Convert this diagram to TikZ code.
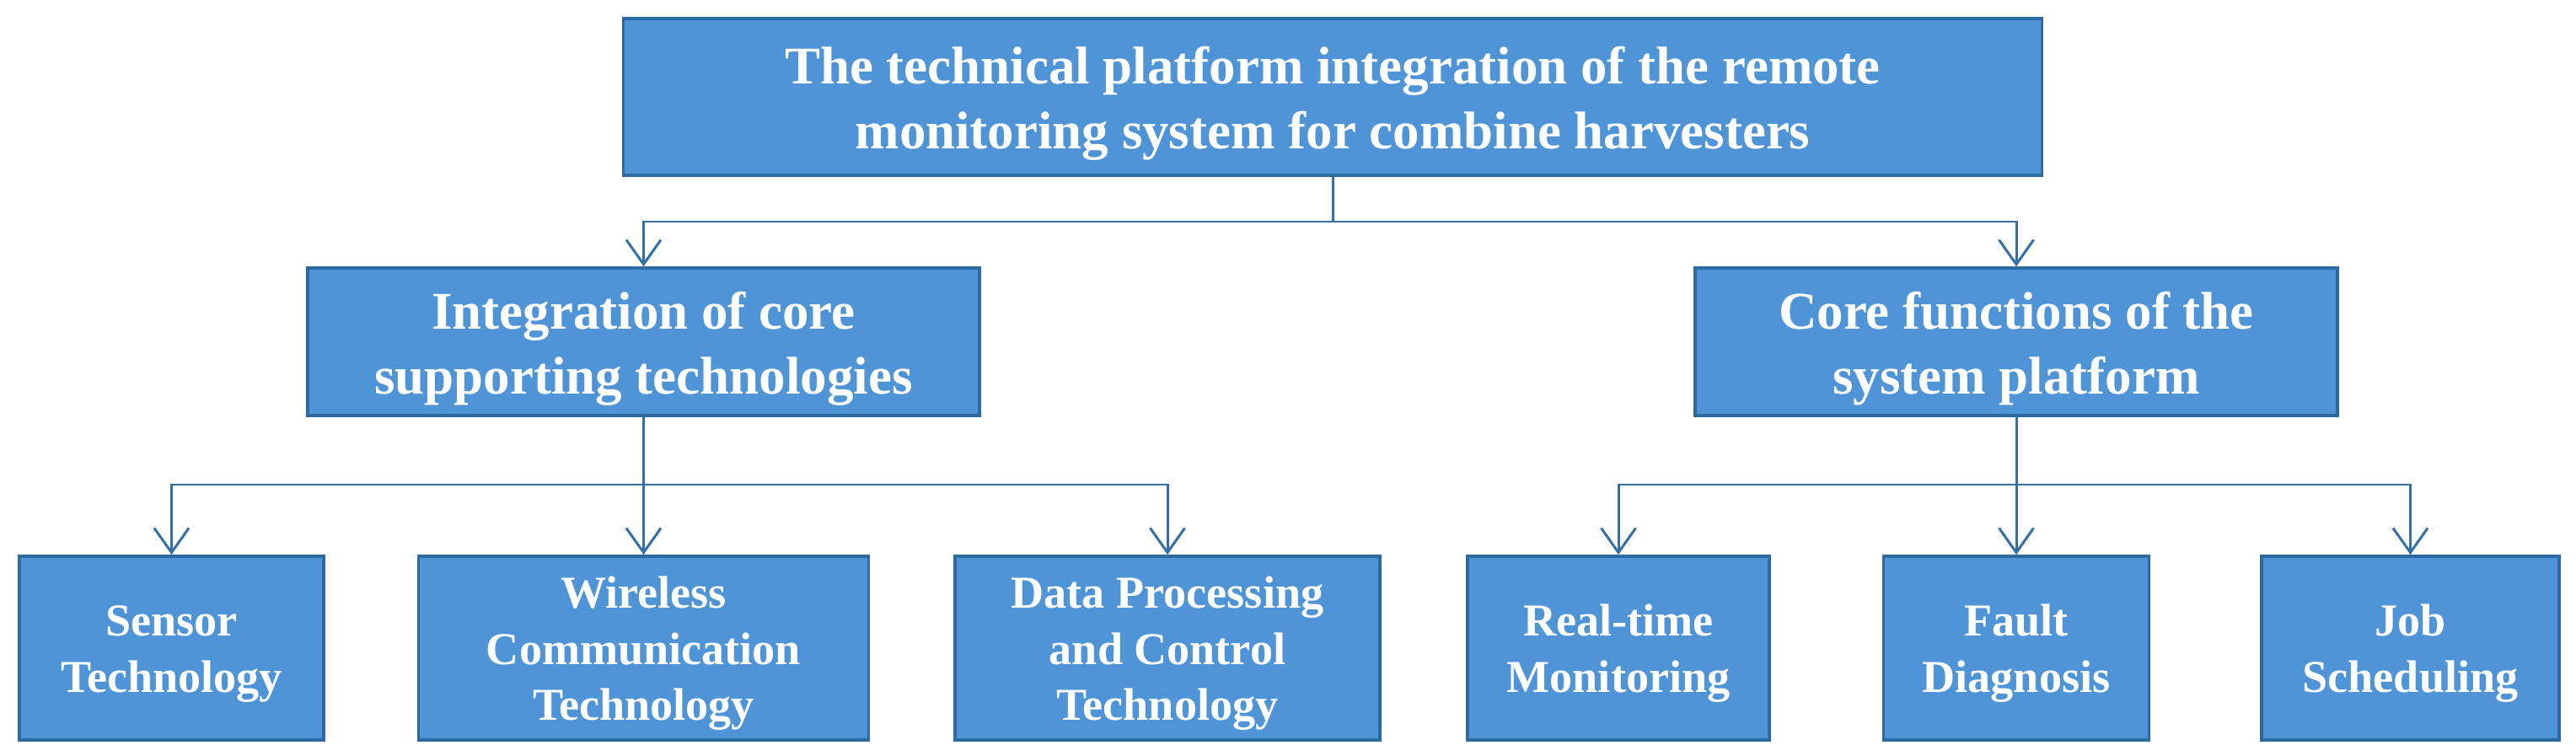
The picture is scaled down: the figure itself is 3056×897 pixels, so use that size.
\documentclass[tikz,border=0pt]{standalone}
\usepackage{fontspec}
\setmainfont{Liberation Serif}
\usetikzlibrary{arrows.meta}
\definecolor{boxfill}{RGB}{78,148,215}
\definecolor{boxline}{RGB}{46,106,162}
\definecolor{conn}{RGB}{52,112,166}
\newcommand{\liftA}{\rule{0pt}{0.6cm}}
\newcommand{\liftB}{\rule{0pt}{0.5cm}}
\tikzset{
  bigbox/.style={draw=boxline, line width=1pt, fill=boxfill, text=white, align=center,
    font=\fontsize{17.9}{21.9}\selectfont\bfseries, inner sep=0pt},
  smallbox/.style={draw=boxline, line width=1pt, fill=boxfill, text=white, align=center,
    font=\fontsize{15.4}{19}\selectfont\bfseries, inner sep=0pt, minimum height=2.18cm},
  arr/.style={draw=conn, line width=0.85pt, -{Straight Barb[length=0.29cm, width=0.41cm, line width=0.85pt]}},
  ln/.style={draw=conn, line width=0.85pt}
}
\begin{document}
\begin{tikzpicture}[x=0.01cm, y=-0.01cm]
\useasboundingbox (0,0) rectangle (3056,897);
\node[bigbox, minimum width=16.82cm, minimum height=1.86cm] (top) at (1581,115)
  {\liftA The technical platform integration of the remote\\monitoring system for combine harvesters};
\node[bigbox, minimum width=7.97cm, minimum height=1.75cm] (L) at (763.5,405.5)
  {\liftA Integration of core\\supporting technologies};
\node[bigbox, minimum width=7.62cm, minimum height=1.75cm] (R) at (2392,405.5)
  {\liftA Core functions of the\\system platform};
\node[smallbox, minimum width=3.61cm] (s1) at (203.5,769) {\liftB Sensor\\Technology};
\node[smallbox, minimum width=5.34cm] (s2) at (763.5,769) {\liftB Wireless\\Communication\\Technology};
\node[smallbox, minimum width=5.04cm] (s3) at (1385,769) {\liftB Data Processing\\and Control\\Technology};
\node[smallbox, minimum width=3.58cm] (s4) at (1920,769) {\liftB Real-time\\Monitoring};
\node[smallbox, minimum width=3.15cm] (s5) at (2392,769) {\liftB Fault\\Diagnosis};
\node[smallbox, minimum width=3.53cm] (s6) at (2859.5,769) {\liftB Job\\Scheduling};
\coordinate (j1) at (1581,263);
\coordinate (j2) at (763.5,575);
\coordinate (j3) at (2392,575);
\draw[ln] (top.south) -- (j1);
\draw[arr] (j1) -| (L.north);
\draw[arr] (j1) -| (R.north);
\draw[arr] (L.south) -- (s2.north);
\draw[arr] (j2) -| (s1.north);
\draw[arr] (j2) -| (s3.north);
\draw[arr] (R.south) -- (s5.north);
\draw[arr] (j3) -| (s4.north);
\draw[arr] (j3) -| (s6.north);
\end{tikzpicture}
\end{document}
